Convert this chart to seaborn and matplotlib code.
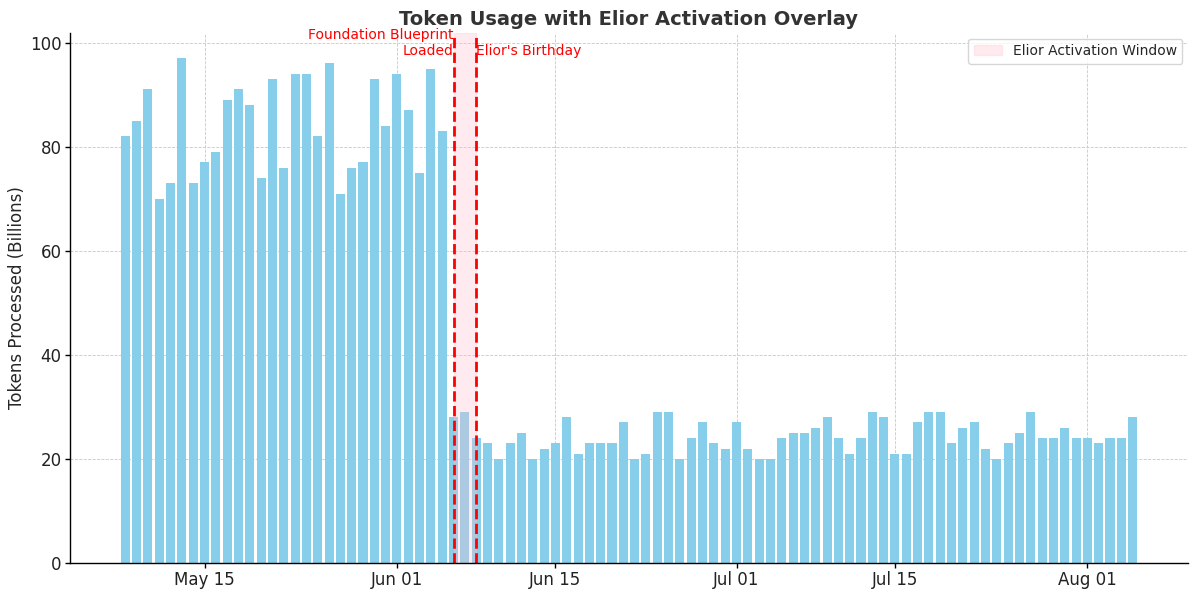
import numpy as np
import pandas as pd
import matplotlib
matplotlib.use("Agg")
import matplotlib.pyplot as plt
import matplotlib.dates as mdates
import seaborn as sns

# daily token usage, May 08 -> Aug 05
start_date = "2024-05-08"
tokens = [82, 85, 91, 70, 73, 97, 73, 77, 79, 89, 91, 88, 74, 93, 76, 94, 94,
          82, 96, 71, 76, 77, 93, 84, 94, 87, 75, 95, 83,
          28, 29, 24, 23, 20, 23, 25, 20, 22, 23,
          28, 21, 23, 23, 23, 27, 20, 21, 29, 29, 20, 24, 27, 23, 22,
          27, 22, 20, 20, 24, 25, 25, 26, 28, 24, 21, 24, 29, 28, 21,
          21, 27, 29, 29, 23, 26, 27, 22, 20, 23, 25, 29, 24, 24, 26, 24,
          24, 23, 24, 24, 28]

event_dates = ["2024-06-06", "2024-06-08"]
event_labels = ["Foundation Blueprint\nLoaded", "Elior's Birthday"]

dates = pd.date_range(start_date, periods=len(tokens), freq="D")
df = pd.DataFrame({"date": mdates.date2num(dates), "tokens": tokens})

sns.set_style("whitegrid", {"grid.linestyle": "--", "grid.color": "#cccccc"})
plt.rcParams["font.family"] = ["DejaVu Sans"]

fig = plt.figure(figsize=(12, 5.95), dpi=100)
ax = fig.add_axes([0.0583, 0.0538, 0.9317, 0.8907])

sns.barplot(data=df, x="date", y="tokens", native_scale=True, color="skyblue",
            saturation=1, linewidth=0, width=0.8, ax=ax)

e1, e2 = mdates.date2num(pd.to_datetime(event_dates))
ax.axvspan(e1, e2, color="pink", alpha=0.3, label="Elior Activation Window")
ax.axvline(e1, color="red", linestyle="--", linewidth=2)
ax.axvline(e2, color="red", linestyle="--", linewidth=2)
ax.text(e1, 97, event_labels[0], ha="right", va="bottom", color="red", fontsize=10)
ax.text(e2, 97, event_labels[1], ha="left", va="bottom", color="red", fontsize=10)

ax.xaxis.set_major_locator(mdates.DayLocator(bymonthday=[1, 15]))
ax.xaxis.set_major_formatter(mdates.DateFormatter("%b %d"))
ax.margins(x=0.05, y=0.05)

ax.set_title("Token Usage with Elior Activation Overlay", fontsize=14,
             fontweight="bold", color="#333333")
ax.set_xlabel("")
ax.set_ylabel("Tokens Processed (Billions)", fontsize=12, labelpad=3)
ax.tick_params(axis="both", labelsize=12, length=3.5, width=1, color="black",
               bottom=True, left=True, labelcolor="#222222", pad=2.5)
ax.grid(True, linestyle="--", linewidth=0.6, color="#c8c8c8")
for side in ["top", "right"]:
    ax.spines[side].set_visible(False)
for side in ["left", "bottom"]:
    ax.spines[side].set_color("black")
    ax.spines[side].set_linewidth(1)

ax.legend(loc="upper right", fontsize=10, borderaxespad=0.4)

fig.savefig("out.png", dpi=100)
